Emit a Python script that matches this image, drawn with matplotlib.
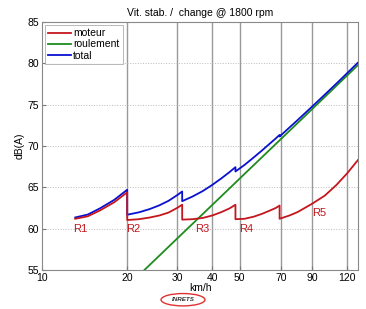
import numpy as np
import matplotlib
matplotlib.use("Agg")
import matplotlib.pyplot as plt
from matplotlib.patches import Ellipse

# gear segments of the engine noise (moteur), km/h and dB(A)
r1_v = [13.1, 14.5, 16, 18, 20]
r1_m = [61.2, 61.5, 62.2, 63.2, 64.4]
r2_v = [20, 22, 24, 26, 28, 30, 31.3]
r2_m = [61.05, 61.15, 61.35, 61.6, 61.95, 62.5, 62.9]
r3_v = [31.3, 34, 37, 40, 43, 46, 48.3]
r3_m = [61.1, 61.15, 61.3, 61.6, 62.0, 62.45, 62.9]
r4_v = [48.3, 52, 56, 60, 64, 67, 69.2]
r4_m = [61.15, 61.2, 61.45, 61.8, 62.2, 62.5, 62.8]
r5_v = [69.2, 75, 80, 90, 100, 110, 120, 131]
r5_m = [61.2, 61.6, 62.0, 63.0, 64.0, 65.3, 66.7, 68.3]

# total per gear
r1_t = [61.36, 61.71, 62.45, 63.49, 64.71]
r2_t = [61.69, 61.98, 62.37, 62.83, 63.37, 64.04, 64.5]
r3_t = [63.33, 63.88, 64.55, 65.3, 66.07, 66.84, 67.44]
r4_t = [66.92, 67.71, 68.61, 69.47, 70.31, 70.9, 71.34]
r5_t = [71.15, 72.24, 73.11, 74.74, 76.21, 77.56, 78.81, 80.08]

# rolling noise (roulement)
roul_v = [20, 30, 40, 50, 70, 90, 120, 131]
roul_db = [53.01, 58.79, 62.88, 66.06, 70.85, 74.43, 78.53, 79.78]

gear_labels = ["R1", "R2", "R3", "R4", "R5"]
gear_lab_v = [13.6, 21.0, 37.0, 52.9, 95.2]
gear_lab_db = [60.0, 60.0, 60.0, 60.0, 61.9]

xticks = [10, 20, 30, 40, 50, 70, 90, 120]
yticks = [55, 60, 65, 70, 75, 80, 85]

moteur_v = r1_v + r2_v + r3_v + r4_v + r5_v
moteur_db = r1_m + r2_m + r3_m + r4_m + r5_m
total_db = r1_t + r2_t + r3_t + r4_t + r5_t

plt.rcParams['font.family'] = ['Liberation Sans', 'DejaVu Sans']
fig = plt.figure(figsize=(3.66, 3.09), dpi=100)
ax = fig.add_axes([0.115, 0.126, 0.863, 0.803])

red = '#c4161c'
green = '#1e8c1e'
blue = '#0a10d0'

ax.plot(moteur_v, moteur_db, color=red, lw=1.3, label='moteur', zorder=4)
ax.plot(roul_v, roul_db, color=green, lw=1.3, label='roulement', zorder=3)
ax.plot(moteur_v, total_db, color=blue, lw=1.3, label='total', zorder=3)

ax.set_xscale('log')
ax.set_xlim(10, 131)
ax.set_ylim(55, 85)
ax.set_xticks(xticks)
ax.set_xticklabels([str(t) for t in xticks])
ax.xaxis.set_minor_locator(matplotlib.ticker.NullLocator())
ax.set_yticks(yticks)
ax.tick_params(direction='in', labelsize=7.5, length=3, color='#777777', pad=2)

for t in xticks[1:]:
    ax.axvline(t, color='#9a9a9a', lw=1.0, zorder=1)
for t in yticks[1:-1]:
    ax.axhline(t, color='#bbbbbb', lw=0.7, ls=':', zorder=1)

for s in ax.spines.values():
    s.set_color('#888888')
    s.set_linewidth(0.8)

for lab, v, d in zip(gear_labels, gear_lab_v, gear_lab_db):
    ax.text(v, d, lab, color=red, fontsize=8, ha='center', va='center', zorder=5)

ax.set_title('Vit. stab. /  change @ 1800 rpm', fontsize=7.5, pad=4)
ax.set_xlabel('km/h', fontsize=7.5, labelpad=0)
ax.set_ylabel('dB(A)', fontsize=7.5, labelpad=2)

leg = ax.legend(loc='upper left', fontsize=7.5, frameon=True, fancybox=False,
                borderpad=0.3, handlelength=2.2, handletextpad=0.2,
                labelspacing=0.12, borderaxespad=0.3)
leg.get_frame().set_edgecolor('#999999')
leg.get_frame().set_linewidth(0.6)

# logo
fig.add_artist(Ellipse((0.5, 0.03), 0.12, 0.04, transform=fig.transFigure,
                       fill=False, edgecolor='#e03030', lw=1.0))
fig.text(0.5, 0.03, 'INRETS', fontsize=4.5, fontweight='bold', style='italic',
         color='#333333', ha='center', va='center')

fig.savefig('out.png', dpi=100)
